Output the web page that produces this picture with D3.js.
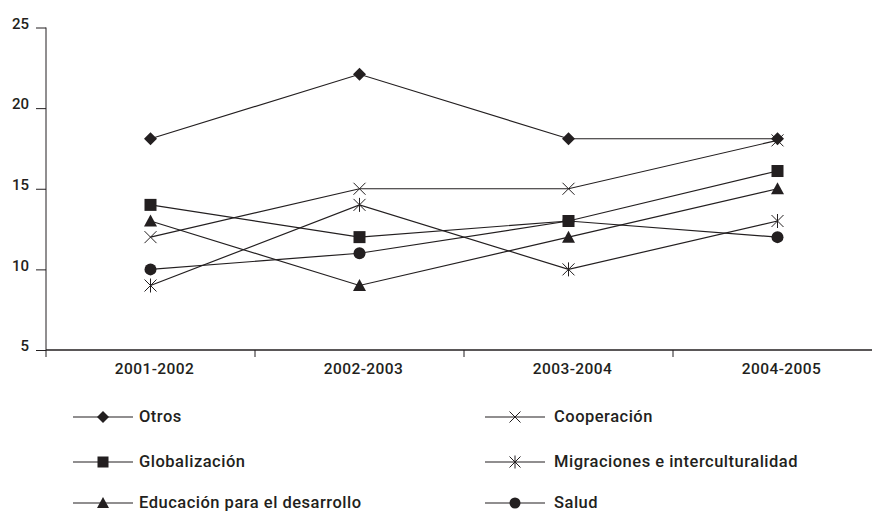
<!DOCTYPE html>
<html>
<head>
<meta charset="utf-8">
<script src="https://cdn.jsdelivr.net/npm/d3@7/dist/d3.min.js"></script>
<style>
  body { margin: 0; background: #fff; }
  text { font-family: Roboto, "DejaVu Sans Condensed", sans-serif; font-weight: 500; fill: #231f20; }
  .line { fill: none; stroke: #231f20; stroke-width: 1.2px; }
</style>
</head>
<body>
<svg width="872" height="511"></svg>
<script>

// data
var categories = ["2001-2002", "2002-2003", "2003-2004", "2004-2005"];
var yTicks = [5, 10, 15, 20, 25];

var otros = [18.1, 22.1, 18.1, 18.1];
var cooperacion = [12, 15, 15, 18];
var globalizacion = [14, 12, 13, 16.1];
var migraciones = [9, 14, 10, 13];
var educacion = [13, 9, 12, 15];
var salud = [10, 11, 13, 12];

var series = [
  { name: "Otros", values: otros, marker: "diamond" },
  { name: "Globalización", values: globalizacion, marker: "square" },
  { name: "Educación para el desarrollo", values: educacion, marker: "triangle" },
  { name: "Cooperación", values: cooperacion, marker: "cross" },
  { name: "Migraciones e interculturalidad", values: migraciones, marker: "asterisk" },
  { name: "Salud", values: salud, marker: "circle" }
];

var svg = d3.select("svg");

var x = d3.scaleBand().domain(categories).range([46, 882]);
var y = d3.scaleLinear().domain([5, 25]).range([350, 27.5]);

// y axis
var yAxis = svg.append("g")
    .attr("transform", "translate(46,0)")
    .call(d3.axisLeft(y).tickValues(yTicks).tickSize(10).tickPadding(7));
yAxis.select(".domain").attr("stroke", "#231f20").attr("d", "M0,350V27.5");
yAxis.selectAll(".tick line").attr("stroke", "#231f20");
yAxis.selectAll("text").style("font-size", "15px").attr("dy", "0.05em");

// x axis
var xAxis = svg.append("g")
    .attr("transform", "translate(0,350)")
    .call(d3.axisBottom(x).tickSize(0).tickPadding(13));
xAxis.select(".domain").attr("stroke", "#231f20").attr("stroke-width", 1.3).attr("d", "M46,0H882");
xAxis.selectAll("text").style("font-size", "15.5px").style("letter-spacing", "0.4px").attr("dx", "4px");
// boundary ticks between categories
xAxis.selectAll(".sep")
    .data(categories)
    .enter().append("line")
    .attr("x1", function(d) { return x(d); })
    .attr("x2", function(d) { return x(d); })
    .attr("y1", 0).attr("y2", 7)
    .attr("stroke", "#231f20");

function drawMarker(g, type, s) {
  var r = s / 2;
  if (type === "diamond") {
    g.append("path").attr("d", "M0," + (-r - 0.5) + "L" + (r + 0.5) + ",0L0," + (r + 0.5) + "L" + (-r - 0.5) + ",0Z").attr("fill", "#231f20");
  } else if (type === "square") {
    g.append("rect").attr("x", -r).attr("y", -r).attr("width", s).attr("height", s).attr("fill", "#231f20");
  } else if (type === "triangle") {
    g.append("path").attr("d", "M0," + (-r - 0.5) + "L" + (r + 0.5) + "," + (r - 0.5) + "L" + (-r - 0.5) + "," + (r - 0.5) + "Z").attr("fill", "#231f20");
  } else if (type === "circle") {
    g.append("circle").attr("r", r).attr("fill", "#231f20");
  } else if (type === "cross") {
    g.append("path").attr("d", "M" + (-r) + "," + (-r) + "L" + r + "," + r + "M" + (-r) + "," + r + "L" + r + "," + (-r))
      .attr("stroke", "#231f20").attr("stroke-width", 1).attr("fill", "none");
  } else if (type === "asterisk") {
    g.append("path").attr("d", "M" + (-r) + "," + (-r) + "L" + r + "," + r + "M" + (-r) + "," + r + "L" + r + "," + (-r) + "M0," + (-r - 1) + "V" + (r + 1))
      .attr("stroke", "#231f20").attr("stroke-width", 1).attr("fill", "none");
  }
}

var line = d3.line()
    .x(function(d, i) { return x(categories[i]) + x.bandwidth() / 2; })
    .y(function(d) { return y(d); });

var plot = svg.append("g");
series.forEach(function(s) {
  plot.append("path").attr("class", "line").attr("d", line(s.values));
});
series.forEach(function(s) {
  s.values.forEach(function(v, i) {
    var g = plot.append("g")
        .attr("transform", "translate(" + (x(categories[i]) + x.bandwidth() / 2) + "," + y(v) + ")");
    drawMarker(g, s.marker, 12);
  });
});

// legend
var legendCols = [73, 485];
var legendRows = [417, 462, 503];
series.forEach(function(s, i) {
  var col = Math.floor(i / 3), row = i % 3;
  var g = svg.append("g").attr("transform", "translate(" + legendCols[col] + "," + legendRows[row] + ")");
  g.append("line").attr("x1", 0).attr("x2", 60).attr("y1", 0).attr("y2", 0)
    .attr("stroke", "#231f20").attr("stroke-width", 1.2);
  var m = g.append("g").attr("transform", "translate(30,0)");
  drawMarker(m, s.marker, 11);
  g.append("text").attr("x", col === 0 ? 66 : 69).attr("y", 0).attr("dy", "0.3em")
    .style("font-size", "16.5px").style("letter-spacing", "0.5px").text(s.name);
});

</script>
</body>
</html>
